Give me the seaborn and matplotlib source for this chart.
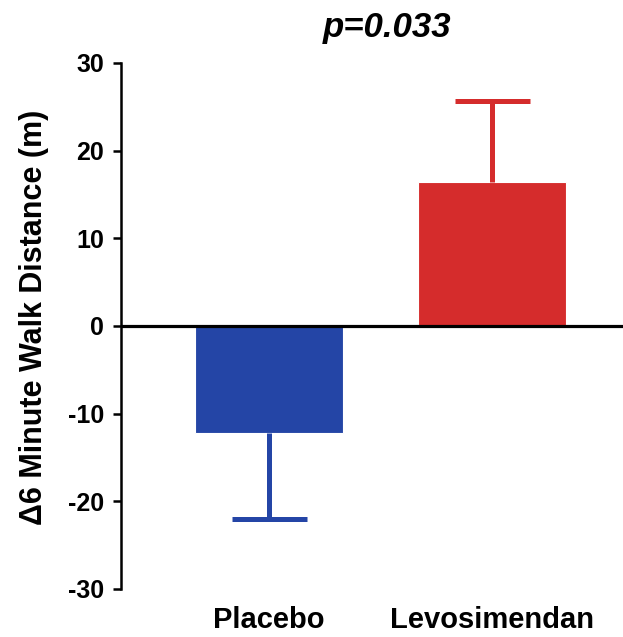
import matplotlib
matplotlib.use("Agg")
import matplotlib.pyplot as plt
import seaborn as sns
import pandas as pd

groups = ["Placebo", "Levosimendan"]
mean_change = [-12.2, 16.4]
err_down = [9.8, 0.0]
err_up = [0.0, 9.3]
bar_colors = ["#2445a6", "#d52c2c"]
y_ticks = [-30, -20, -10, 0, 10, 20, 30]
p_text = "p=0.033"

sns.set_theme(style="white")
plt.rcParams['font.family'] = ['Liberation Sans', 'DejaVu Sans']
plt.rcParams['font.weight'] = 'bold'
for key in ['text.color', 'axes.labelcolor', 'xtick.color', 'ytick.color']:
    plt.rcParams[key] = 'black'

df = pd.DataFrame({"Group": groups, "Change": mean_change})

fig = plt.figure(figsize=(6.23, 6.37), dpi=100)
ax = fig.add_axes([0.1942, 0.0754, 0.8058, 0.8257])

sns.barplot(data=df, x="Group", y="Change", hue="Group", palette=bar_colors,
            width=0.664, legend=False, ax=ax, saturation=1, errorbar=None,
            edgecolor="white", linewidth=0.8)

# one-sided error bars: hide the cap that sits on the bar itself
for i in range(len(groups)):
    _, caps, _ = ax.errorbar(i, mean_change[i], yerr=[[err_down[i]], [err_up[i]]],
                             fmt="none", ecolor=bar_colors[i], elinewidth=3.6,
                             capsize=27, capthick=3.6, zorder=1)
    if err_up[i] == 0:
        caps[1].set_visible(False)
    if err_down[i] == 0:
        caps[0].set_visible(False)

ax.axhline(0, color="black", lw=2.3, zorder=5)

ax.set_xlim(-0.664, 1.587)
ax.set_ylim(-30, 30)
ax.set_yticks(y_ticks)
ax.set_yticklabels([str(t) for t in y_ticks], fontsize=18, fontweight="bold")
ax.tick_params(axis="y", direction="out", length=6, width=1.8, pad=6, left=True)
ax.tick_params(axis="x", length=0, pad=12, labelsize=21)
for lbl in ax.get_xticklabels():
    lbl.set_fontweight("bold")

for side in ["top", "right", "bottom"]:
    ax.spines[side].set_visible(False)
ax.spines["left"].set_linewidth(1.8)
ax.spines["left"].set_color("black")

ax.set_xlabel("")
ax.set_ylabel("Δ6 Minute Walk Distance (m)", fontsize=22, fontweight="bold")
ax.yaxis.set_label_coords(-0.143, 0.517)
ax.set_title(p_text, fontsize=25, fontweight="bold", style="italic", pad=19, x=0.53)

fig.savefig("out.png", dpi=100)
